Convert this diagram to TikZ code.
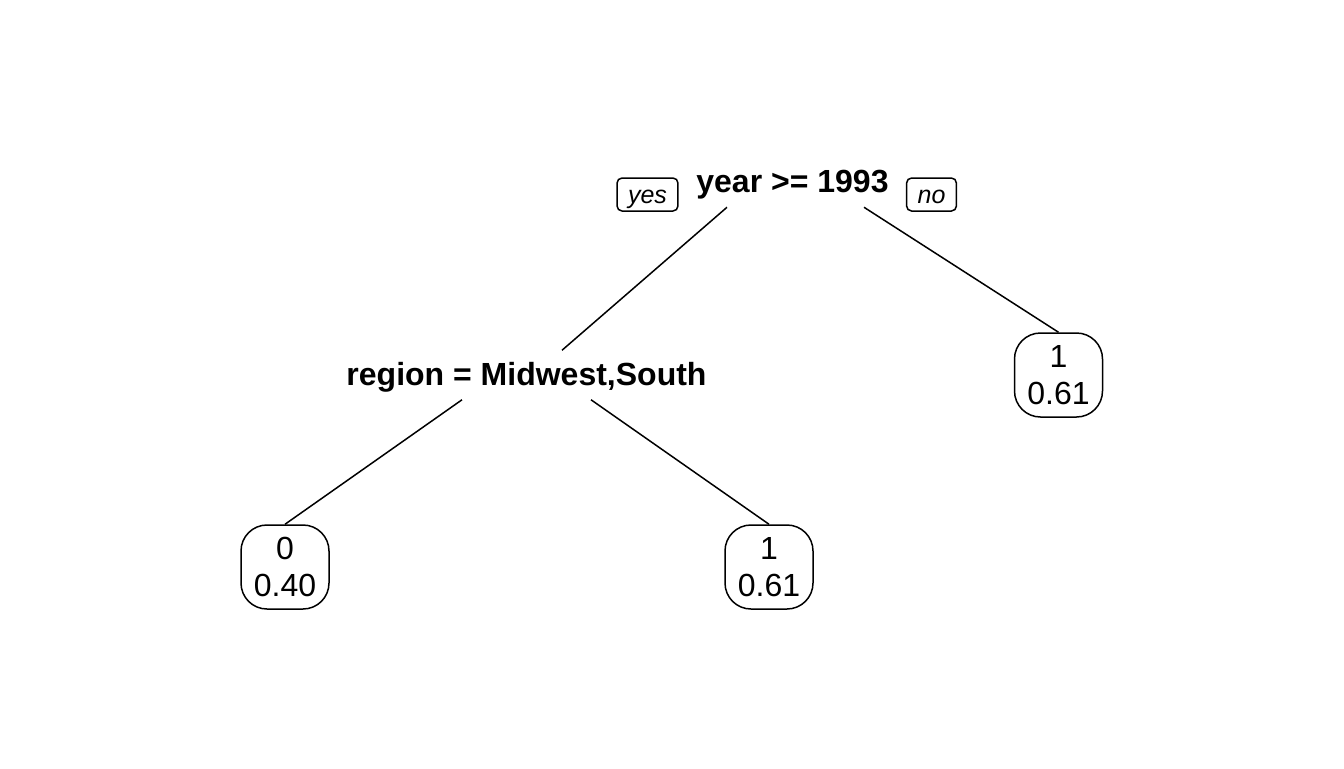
\documentclass[tikz,border=0pt]{standalone}
\usepackage{fontspec}
\setmainfont{Liberation Sans}
\usepackage{tikz}
\usetikzlibrary{positioning}

\begin{document}
\begin{tikzpicture}[x=0.5pt, y=-0.5pt, line width=0.75pt,
		split/.style={inner sep=0pt, minimum height=24pt, text height=10pt, text depth=0pt, font=\bfseries\fontsize{16}{19}\selectfont},
		leaf/.style={draw, rounded corners=13pt, minimum width=44pt, minimum height=42pt, inner sep=0pt, align=center, font=\fontsize{16}{18.5}\selectfont},
		tag/.style={draw, rounded corners=2.5pt, inner xsep=5.5pt, inner ysep=0pt, minimum height=16.5pt, text height=9pt, text depth=0pt, font=\itshape\fontsize{12.5}{15}\selectfont}]
		\useasboundingbox (0,0) rectangle (1344,768);
		
		\node[split] (year) at (792.5,182.5) {year >= 1993};
		\node[tag] (yes) at (647.5,194.5) {yes};
		\node[tag] (no) at (931.5,194.5) {no};
		\node[split] (region) at (526.5,375) {region = Midwest,South};
		\node[leaf] (l0) at (285,567) {0\\0.40};
		\node[leaf] (l1) at (769,567) {1\\0.61};
		\node[leaf] (r1) at (1058.5,375) {1\\0.61};
		
		\draw ([shift={(-65.5,0)}]year.south) -- ([shift={(35.5,0)}]region.north);
		\draw ([shift={(71.5,0)}]year.south) -- (r1.north);
		\draw ([shift={(-64.5,0)}]region.south) -- (l0.north);
		\draw ([shift={(64.5,0)}]region.south) -- (l1.north);
	\end{tikzpicture}
\end{document}
